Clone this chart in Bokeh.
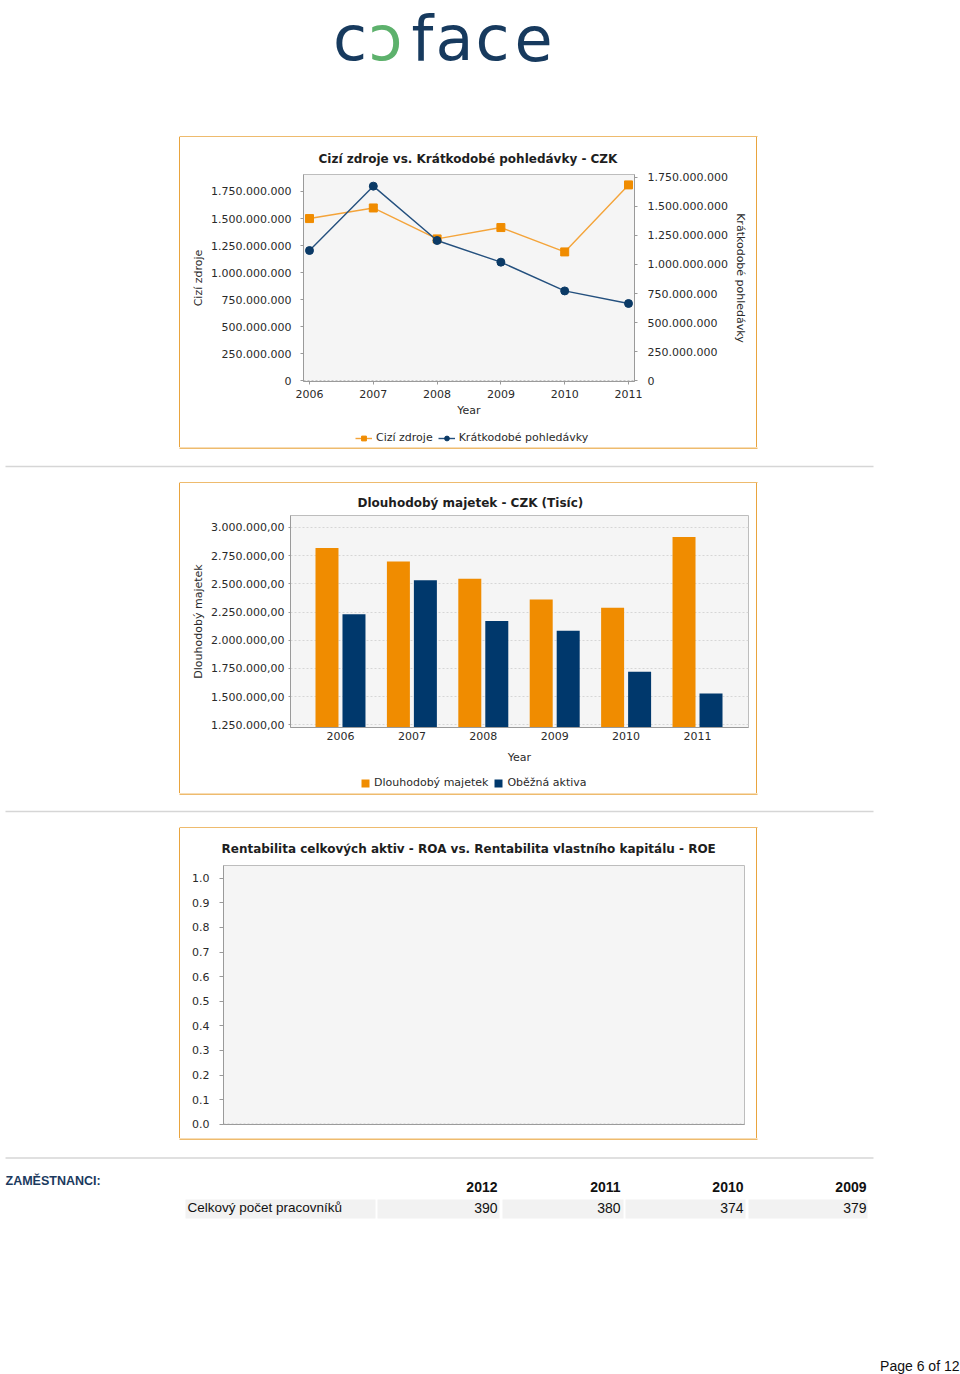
from bokeh.plotting import figure
from bokeh.models import (Range1d, LinearAxis, FixedTicker, Legend, LegendItem,
                          Span, NumeralTickFormatter, ColumnDataSource, Spacer)
from bokeh.layouts import column, row
from bokeh.transform import dodge
from bokeh.core.properties import value
from bokeh.embed import file_html
from bokeh.resources import INLINE
import math

# ---------------- data ----------------
years = [2006, 2007, 2008, 2009, 2010, 2011]
year_labels = ["2006", "2007", "2008", "2009", "2010", "2011"]

# chart 1 : Cizí zdroje vs. Krátkodobé pohledávky (CZK)
cizi_zdroje = [1500e6, 1598e6, 1312e6, 1417e6, 1192e6, 1811e6]
kratkodobe_pohledavky = [1120e6, 1673e6, 1206e6, 1020e6, 773e6, 665e6]
c1_ticks = [0, 250000000, 500000000, 750000000, 1000000000, 1250000000, 1500000000, 1750000000]
c1_tick_labels = ["0", "250.000.000", "500.000.000", "750.000.000", "1.000.000.000",
                  "1.250.000.000", "1.500.000.000", "1.750.000.000"]

# chart 2 : Dlouhodobý majetek - CZK (Tisíc)
dlouhodoby_majetek = [2817000, 2698000, 2545000, 2361000, 2288000, 2915000]
obezna_aktiva = [2231000, 2532000, 2170000, 2084000, 1720000, 1528000]
c2_ticks = [1250000, 1500000, 1750000, 2000000, 2250000, 2500000, 2750000, 3000000]
c2_tick_labels = ["1.250.000,00", "1.500.000,00", "1.750.000,00", "2.000.000,00",
                  "2.250.000,00", "2.500.000,00", "2.750.000,00", "3.000.000,00"]

# chart 3 : ROA vs ROE (no data)
roa = []
roe = []
c3_ticks = [0.0, 0.1, 0.2, 0.3, 0.4, 0.5, 0.6, 0.7, 0.8, 0.9, 1.0]

# employees table
table_years = ["2012", "2011", "2010", "2009"]
celkovy_pocet = [390, 380, 374, 379]

# ---------------- styles ----------------
ORANGE = "#F08C00"
ORANGE_LINE = "#F4A43A"
NAVY = "#00386C"
NAVY_LINE = "#24507E"
NAVY_MARK = "#0B3A66"
BOX = "#E9A43E"
FONT = "DejaVu Sans"
TXT = "#2A2A2A"
LOGO_NAVY = "#173A5E"
LOGO_GREEN = "#5DB16C"


def style_axis(ax, tick_out=3, standoff=6, label_standoff=4):
    ax.axis_line_color = "#9A9A9A"
    ax.major_tick_line_color = "#9A9A9A"
    ax.minor_tick_line_color = None
    ax.major_tick_in = 0
    ax.major_tick_out = tick_out
    ax.major_label_standoff = standoff
    ax.major_label_text_font = FONT
    ax.major_label_text_font_size = "11px"
    ax.major_label_text_color = TXT
    ax.axis_label_text_font = FONT
    ax.axis_label_text_font_size = "11px"
    ax.axis_label_text_font_style = "normal"
    ax.axis_label_text_color = TXT
    ax.axis_label_standoff = label_standoff


def style_title(p, text, offset=0, standoff=10):
    p.title.text = text
    p.title.align = "left"
    p.title.text_font = FONT
    p.title.text_font_size = "12px"
    p.title.text_font_style = "bold"
    p.title.text_color = "#1E1E1E"
    p.title.offset = offset
    p.title.standoff = standoff


def style_legend(leg, gw, gh):
    leg.orientation = "horizontal"
    leg.label_text_font = FONT
    leg.label_text_font_size = "11px"
    leg.label_text_color = TXT
    leg.glyph_width = gw
    leg.glyph_height = gh
    leg.label_standoff = 4
    leg.spacing = 5
    leg.padding = 0
    leg.margin = 0
    leg.border_line_color = None
    leg.background_fill_alpha = 0
    leg.label_height = 12


def blank(w, h):
    f = figure(width=w, height=h, x_range=Range1d(0, w), y_range=Range1d(h, 0),
               output_backend="svg", toolbar_location=None, min_border=0,
               x_axis_location=None, y_axis_location=None, outline_line_color=None)
    f.grid.visible = False
    return f


def legend_fig(h, left, right, y0, y1):
    # a strip below a chart that only carries that chart's legend;
    # its x range lies past the last year so the series themselves stay out of view
    f = figure(width=576, height=h, x_range=Range1d(2020, 2021), y_range=Range1d(y0, y1),
               output_backend="svg", toolbar_location=None,
               min_border_left=left, min_border_right=right, min_border_top=0,
               min_border_bottom=0, x_axis_location=None, y_axis_location=None,
               outline_line_color=None)
    f.grid.visible = False
    return f


def hline(f, y, x0, x1, color, width):
    f.segment(x0=[x0], y0=[y], x1=[x1], y1=[y], line_color=color, line_width=width)


# ---------------- header (logo) ----------------
head = blank(960, 137)
head.text(x=[349.5, 422, 454, 492, 533], y=[37.5] * 5,
          text=["c", "f", "a", "c", "e"], text_color=LOGO_NAVY,
          text_font=value("DejaVu Sans"), text_font_size="62px",
          text_align="center", text_baseline="middle")
head.text(x=[385], y=[46.5], text=["c"], angle=math.pi, text_color=LOGO_GREEN,
          text_font=value("DejaVu Sans"), text_font_size="62px",
          text_align="center", text_baseline="middle")
hline(head, 136.5, 179, 757, BOX, 1.3)

# ---------------- chart 1 ----------------
p1 = figure(width=576, height=285, output_backend="svg", toolbar_location=None,
            x_range=Range1d(2005.906, 2011.094), y_range=Range1d(-5e6, 1.907e9),
            min_border_left=123, min_border_right=122, min_border_top=37, min_border_bottom=41,
            background_fill_color="#F5F5F5", border_fill_color="white",
            outline_line_color="#BDBDBD")
p1.extra_y_ranges = {"right": Range1d(-5e6, 1.773e9)}
style_title(p1, "Cizí zdroje vs. Krátkodobé pohledávky - CZK", 15, 18)
p1.grid.grid_line_color = None
p1.add_layout(Span(location=0, dimension="width", line_color="#A0A0A0",
                   line_dash="2 2", line_width=1))

ax = p1.xaxis[0]
ax.ticker = FixedTicker(ticks=years)
ax.major_label_overrides = dict(zip(years, year_labels))
ax.axis_label = "Year"
style_axis(ax, tick_out=3, standoff=5, label_standoff=3)

ly = p1.yaxis[0]
ly.ticker = FixedTicker(ticks=c1_ticks)
ly.major_label_overrides = dict(zip(c1_ticks, c1_tick_labels))
ly.axis_label = "Cizí zdroje"
style_axis(ly, tick_out=3, standoff=9, label_standoff=3)

ry = LinearAxis(y_range_name="right", axis_label="Krátkodobé pohledávky",
                ticker=FixedTicker(ticks=c1_ticks),
                major_label_overrides=dict(zip(c1_ticks, c1_tick_labels)))
style_axis(ry, tick_out=3, standoff=10, label_standoff=3)
p1.add_layout(ry, "right")

src1 = ColumnDataSource(dict(year=years, cz=cizi_zdroje, kp=kratkodobe_pohledavky))


def draw_lines(f, extra=None):
    kw = {} if extra is None else {"y_range_name": extra}
    a = f.line("year", "cz", source=src1, line_color=ORANGE_LINE, line_width=1.4)
    b = f.scatter("year", "cz", source=src1, marker="square", size=8,
                  fill_color=ORANGE, line_color=ORANGE)
    c = f.line("year", "kp", source=src1, line_color=NAVY_LINE, line_width=1.4, **kw)
    d = f.scatter("year", "kp", source=src1, marker="circle", size=8,
                  fill_color=NAVY_MARK, line_color=NAVY_MARK, **kw)
    return a, b, c, d


draw_lines(p1, "right")

lg1 = legend_fig(25, 123, 122, 0, 2e9)
k1, k2, k3, k4 = draw_lines(lg1)
leg1 = Legend(items=[LegendItem(label="Cizí zdroje", renderers=[k1, k2]),
                     LegendItem(label="Krátkodobé pohledávky", renderers=[k3, k4])],
              location=(52, 3))
style_legend(leg1, 17, 12)
lg1.add_layout(leg1)

# ---------------- chart 2 ----------------
p2 = figure(width=576, height=285, output_backend="svg", toolbar_location=None,
            x_range=Range1d(2005.30, 2011.714), y_range=Range1d(1.226e6, 3.106e6),
            min_border_left=110, min_border_right=8, min_border_top=32, min_border_bottom=41,
            background_fill_color="#F5F5F5", border_fill_color="white",
            outline_line_color="#BDBDBD")
style_title(p2, "Dlouhodobý majetek - CZK (Tisíc)", 67, 11)
p2.xgrid.grid_line_color = None
p2.ygrid.grid_line_color = "#D6D6D6"
p2.ygrid.grid_line_dash = "2 2"

bx = p2.xaxis[0]
bx.ticker = FixedTicker(ticks=years)
bx.major_label_overrides = dict(zip(years, year_labels))
bx.axis_label = "Year"
style_axis(bx, tick_out=0, standoff=4, label_standoff=8)

by = p2.yaxis[0]
by.ticker = FixedTicker(ticks=c2_ticks)
by.major_label_overrides = dict(zip(c2_ticks, c2_tick_labels))
by.axis_label = "Dlouhodobý majetek"
style_axis(by, tick_out=2, standoff=4, label_standoff=3)

src2 = ColumnDataSource(dict(year=years, dm=dlouhodoby_majetek, oa=obezna_aktiva,
                             zero=[0] * len(years)))


def draw_bars(f, base="zero"):
    a = f.vbar(x=dodge("year", -0.189, range=f.x_range), top="dm", bottom=base, width=0.322,
               source=src2, fill_color=ORANGE, line_color=None)
    b = f.vbar(x=dodge("year", 0.189, range=f.x_range), top="oa",
               bottom=("oa" if base != "zero" else base), width=0.322,
               source=src2, fill_color=NAVY, line_color=None)
    return a, b


draw_bars(p2)

# legend strip for chart 2: flat (zero height) bars outside its ranges, only the legend shows
lg2 = legend_fig(25, 110, 8, 5e6, 6e6)
q1, q2 = draw_bars(lg2, base="dm")
leg2 = Legend(items=[LegendItem(label="Dlouhodobý majetek", renderers=[q1]),
                     LegendItem(label="Oběžná aktiva", renderers=[q2])],
              location=(70, 4))
style_legend(leg2, 10, 10)
lg2.add_layout(leg2)

# ---------------- chart 3 ----------------
p3 = figure(width=576, height=310, output_backend="svg", toolbar_location=None,
            x_range=Range1d(0, 1), y_range=Range1d(-0.001, 1.052),
            min_border_left=43, min_border_right=12, min_border_top=37, min_border_bottom=14,
            background_fill_color="#F5F5F5", border_fill_color="white",
            outline_line_color="#BDBDBD")
style_title(p3, "Rentabilita celkových aktiv - ROA vs. Rentabilita vlastního kapitálu - ROE", -2, 20)
p3.grid.grid_line_color = None
p3.add_layout(Span(location=0, dimension="width", line_color="#A0A0A0",
                   line_dash="2 2", line_width=1))
cx = p3.xaxis[0]
style_axis(cx, tick_out=0, standoff=0, label_standoff=0)
cx.ticker = FixedTicker(ticks=[])
cx.major_label_text_font_size = "0px"
cy = p3.yaxis[0]
cy.ticker = FixedTicker(ticks=c3_ticks)
cy.formatter = NumeralTickFormatter(format="0.0")
style_axis(cy, tick_out=4, standoff=10, label_standoff=0)
src3 = ColumnDataSource(dict(x=list(range(len(roa))), roa=roa, roe=roe))
p3.line("x", "roa", source=src3, line_color=ORANGE)
p3.line("x", "roe", source=src3, line_color=NAVY)


# ---------------- box sides ----------------
def chart_row(mid):
    lf = Spacer(width=180, height=310,
                styles={"border-right": "1px solid " + BOX, "box-sizing": "border-box"})
    rf = Spacer(width=204, height=310,
                styles={"border-left": "1px solid " + BOX, "box-sizing": "border-box"})
    return row(lf, mid, rf)


# ---------------- separators ----------------
sep1 = blank(960, 36)
hline(sep1, 0.5, 179, 757, BOX, 1.3)
hline(sep1, 19, 5, 873, "#D6D6D6", 1.5)
hline(sep1, 35.5, 179, 757, BOX, 1.3)

sep2 = blank(960, 35)
hline(sep2, 0.5, 179, 757, BOX, 1.3)
hline(sep2, 18, 5, 873, "#D6D6D6", 1.5)
hline(sep2, 34.5, 179, 757, BOX, 1.3)

# ---------------- bottom (table + footer) ----------------
bot = blank(960, 236)
hline(bot, 0.5, 179, 757, BOX, 1.3)
hline(bot, 19.5, 5, 873, "#D6D6D6", 1.5)
bot.text(x=[5], y=[42], text=["ZAMĚSTNANCI:"], text_color="#1B3A5E",
         text_font=value("Liberation Sans"), text_font_style="bold", text_font_size="12.5px",
         text_align="left", text_baseline="middle")
col_right = [497, 620, 743, 866]
bot.quad(left=[185, 377, 502, 625, 748], right=[375, 499, 623, 745, 867],
         top=[61] * 5, bottom=[80] * 5, fill_color="#F2F2F2", line_color=None)
bot.text(x=col_right, y=[48] * 4, text=table_years, text_color="#111111",
         text_font=value("Liberation Sans"), text_font_style="bold", text_font_size="14px",
         text_align="right", text_baseline="middle")
bot.text(x=[187], y=[69], text=["Celkový počet pracovníků"], text_color="#111111",
         text_font=value("Liberation Sans"), text_font_size="13.5px",
         text_align="left", text_baseline="middle")
bot.text(x=col_right, y=[69] * 4, text=[str(v) for v in celkovy_pocet], text_color="#111111",
         text_font=value("Liberation Sans"), text_font_size="14px",
         text_align="right", text_baseline="middle")
bot.text(x=[959], y=[227], text=["Page 6 of 12"], text_color="#111111",
         text_font=value("Liberation Sans"), text_font_size="14px",
         text_align="right", text_baseline="middle")

layout = column(
    head,
    chart_row(column(p1, lg1)),
    sep1,
    chart_row(column(p2, lg2)),
    sep2,
    chart_row(p3),
    bot,
)

open("out.html", "w").write(file_html(layout, INLINE, "Coface"))
